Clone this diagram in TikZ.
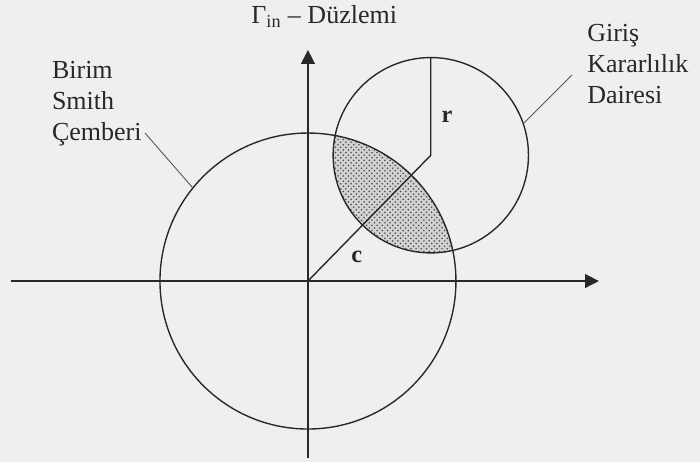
\documentclass[tikz,border=0pt]{standalone}
\usepackage{fontspec}
\setmainfont{Liberation Serif}
\usetikzlibrary{arrows.meta,patterns}
\definecolor{scanbg}{RGB}{238,240,240}
\definecolor{ink}{RGB}{40,40,40}

\begin{document}
\begin{tikzpicture}[scale=3,
  axis/.style={thick, ink, -{Triangle[length=8pt,width=8pt]}},
  rim/.style={circle, draw=ink, thick, inner sep=0pt},
  leader/.style={ink!80, line width=0.5pt},
  lbl/.style={text=ink, font=\fontsize{15}{18}\selectfont, align=left, inner sep=0pt}]
\fill[scanbg] (-2.081,-1.223) rectangle (2.649,1.899);
\useasboundingbox (-2.081,-1.223) rectangle (2.649,1.899);
\coordinate (O) at (0,0);
\coordinate (C) at (0.83,0.85);
\coordinate (T) at (0.83,1.51);
\begin{scope}
\clip (O) circle (1);
\fill[gray!35] (C) circle (0.66);
\fill[pattern=crosshatch dots, pattern color=ink!85] (C) circle (0.66);
\end{scope}
\node[rim, minimum size=6cm] (smith) at (O) {};
\node[rim, minimum size=3.96cm] (stab) at (C) {};
\coordinate (xl) at (-2.007,0);
\coordinate (xr) at (1.966,0);
\coordinate (yb) at (0,-1.196);
\coordinate (yt) at (0,1.561);
\draw[axis] (xl) -- (xr);
\draw[axis] (yb) -- (yt);
\draw[thick, ink] (O) -- (C) -- (T);
\node[text=ink, font=\fontsize{14}{16}\selectfont\bfseries] (clbl) at (0.33,0.16) {c};
\node[text=ink, font=\fontsize{14}{16}\selectfont\bfseries] (rlbl) at (0.94,1.11) {r};
\node[text=ink, font=\fontsize{15}{17}\selectfont, anchor=base] (title) at (0.11,1.74) {Γ\textsubscript{in} – Düzlemi};
\node[lbl, anchor=east] (smithlbl) at (-1.122,1.20) {Birim\\Smith\\Çemberi};
\node[lbl, anchor=west] (stablbl) at (1.885,1.465) {Giriş\\Kararlılık\\Dairesi};
\coordinate (smithtip) at (-1.101,1.0);
\coordinate (stabtip) at (1.784,1.392);
\draw[leader] (smithtip) -- (smith.141);
\draw[leader] (stabtip) -- (stab.19);
\end{tikzpicture}
\end{document}
